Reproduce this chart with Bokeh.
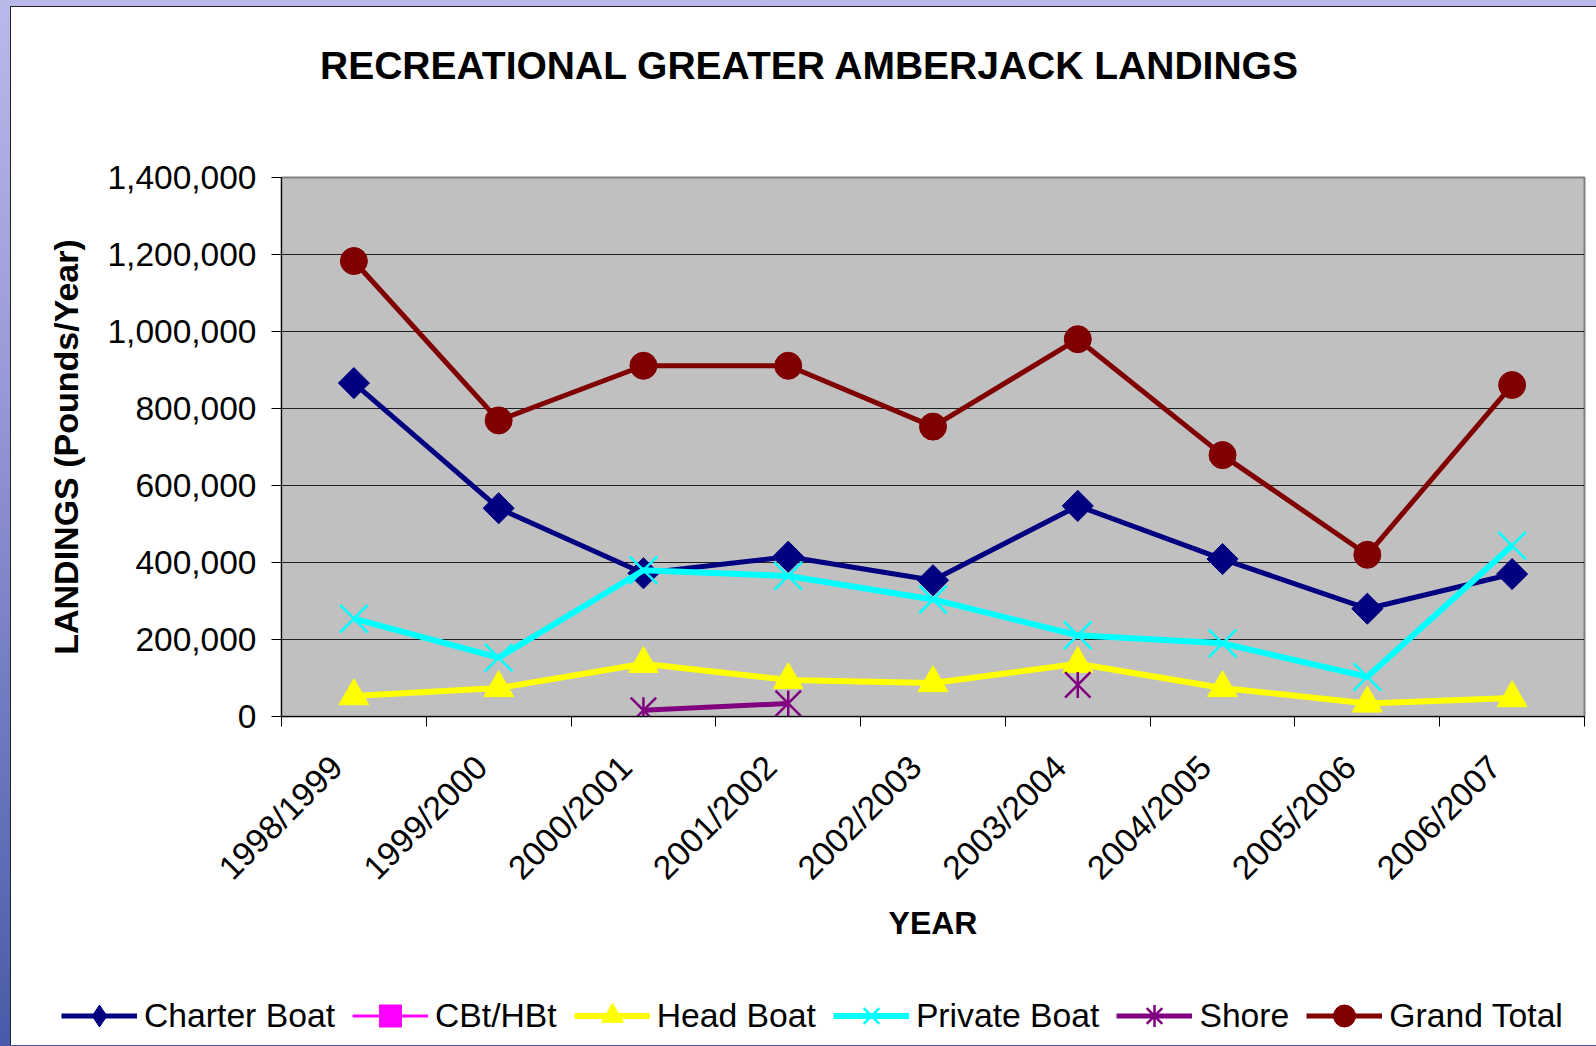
import math
from bokeh.plotting import figure
from bokeh.layouts import column
from bokeh.models import (Range1d, LinearAxis, FixedTicker, NumeralTickFormatter, Div,
                          Legend, LegendItem, Grid, ColumnDataSource)
from bokeh.embed import file_html
from bokeh.resources import INLINE

nan = float("nan")

# ---- data ----
years = ["1998/1999", "1999/2000", "2000/2001", "2001/2002", "2002/2003",
         "2003/2004", "2004/2005", "2005/2006", "2006/2007"]
charter_boat = [866000, 541000, 372000, 415000, 354000, 547000, 409000, 280000, 370000]
cbt_hbt = [nan, nan, nan, nan, nan, nan, nan, nan, nan]
head_boat = [53000, 74000, 137000, 95000, 87000, 137000, 74000, 34000, 48000]
private_boat = [254000, 153000, 380000, 365000, 304000, 211000, 190000, 103000, 444000]
shore = [nan, nan, 16000, 34000, nan, 82000, nan, nan, nan]
grand_total = [1183000, 769000, 911000, 911000, 753000, 980000, 679000, 420000, 861000]
y_ticks = [0, 200000, 400000, 600000, 800000, 1000000, 1200000, 1400000]

series_names = ["Charter Boat", "CBt/HBt", "Head Boat", "Private Boat", "Shore", "Grand Total"]
title_text = "RECREATIONAL GREATER AMBERJACK LANDINGS"
x_label = "YEAR"
y_label = "LANDINGS (Pounds/Year)"

# category positions (band centres) and band edges on a numeric axis
centers = [i + 0.5 for i in range(len(years))]
edges = list(range(len(years) + 1))
label_pos = [c - 0.12 for c in centers]   # rotated labels end just left of the band centre

src = ColumnDataSource(dict(x=centers, charter=charter_boat, cbt=cbt_hbt, head=head_boat,
                            private=private_boat, shore=shore, total=grand_total))

FONT = "Liberation Sans"
C_CHARTER, C_CBT, C_HEAD, C_PRIV, C_SHORE, C_TOTAL = (
    "#000080", "#FF00FF", "#FFFF00", "#00FFFF", "#800080", "#800000")
W = 1585  # width of the white chart area (slide strip on the left)

# ---- title ----
title_div = Div(
    text=('<div style="font-family:\'Liberation Sans\',Arial,sans-serif;font-size:39px;'
          'font-weight:bold;color:black;text-align:center;line-height:44px;'
          'box-sizing:border-box;padding-top:37px;padding-left:11px;width:1585px;margin:0;">'
          + title_text + '</div>'),
    width=W, height=93, margin=0)

# ---- main chart ----
p = figure(width=W, height=880, x_range=Range1d(0, len(years)), y_range=Range1d(0, y_ticks[-1]),
           output_backend="svg", toolbar_location=None, x_axis_type=None, y_axis_type=None,
           min_border_left=270, min_border_right=12, min_border_top=77, min_border_bottom=264,
           margin=0)
p.background_fill_color = "#C0C0C0"
p.border_fill_color = "white"
p.outline_line_color = "#808080"
p.outline_line_width = 2

yaxis = LinearAxis(ticker=FixedTicker(ticks=y_ticks), formatter=NumeralTickFormatter(format="0,0"),
                   axis_label=y_label)
yaxis.axis_line_color = "black"
yaxis.axis_line_width = 1
yaxis.major_tick_out = 10
yaxis.major_tick_in = 0
yaxis.minor_tick_line_color = None
yaxis.major_label_standoff = 15
yaxis.major_label_text_font = FONT
yaxis.major_label_text_font_size = "33.5px"
yaxis.major_label_text_color = "black"
yaxis.axis_label_text_font = FONT
yaxis.axis_label_text_font_style = "bold"
yaxis.axis_label_text_font_size = "34px"
yaxis.axis_label_text_color = "black"
yaxis.axis_label_standoff = 19
p.add_layout(yaxis, "left")

xaxis = LinearAxis(ticker=FixedTicker(ticks=label_pos, minor_ticks=edges),
                   major_label_overrides={c: yr for c, yr in zip(label_pos, years)},
                   axis_label=x_label)
xaxis.axis_line_color = "black"
xaxis.axis_line_width = 1
xaxis.major_tick_out = 0
xaxis.major_tick_in = 0
xaxis.major_tick_line_color = None
xaxis.minor_tick_out = 10
xaxis.minor_tick_in = 0
xaxis.minor_tick_line_color = "black"
xaxis.major_label_orientation = math.pi / 4
xaxis.major_label_standoff = 35
xaxis.major_label_text_font = FONT
xaxis.major_label_text_font_size = "33.5px"
xaxis.major_label_text_color = "black"
xaxis.axis_label_text_font = FONT
xaxis.axis_label_text_font_style = "bold"
xaxis.axis_label_text_font_size = "32px"
xaxis.axis_label_text_color = "black"
xaxis.axis_label_standoff = 2
p.add_layout(xaxis, "below")

p.add_layout(Grid(dimension=1, ticker=yaxis.ticker, grid_line_color="#202020", grid_line_width=1))

p.line("x", "charter", source=src, line_color=C_CHARTER, line_width=5)
p.scatter("x", "charter", source=src, marker="square", angle=math.pi / 4, size=22,
          fill_color=C_CHARTER, line_color=C_CHARTER)
p.line("x", "cbt", source=src, line_color=C_CBT, line_width=3)
p.scatter("x", "cbt", source=src, marker="square", size=14, fill_color=C_CBT, line_color=C_CBT)
p.line("x", "head", source=src, line_color=C_HEAD, line_width=6)
p.scatter("x", "head", source=src, marker="triangle", size=30, fill_color=C_HEAD, line_color=C_HEAD)
p.line("x", "private", source=src, line_color=C_PRIV, line_width=6)
p.scatter("x", "private", source=src, marker="x", size=39, line_color=C_PRIV, line_width=2.5)
p.line("x", "shore", source=src, line_color=C_SHORE, line_width=5)
p.scatter("x", "shore", source=src, marker="x", size=36, line_color=C_SHORE, line_width=2.5)
p.scatter("x", "shore", source=src, marker="dash", angle=math.pi / 2, size=26,
          line_color=C_SHORE, line_width=2.5)
p.line("x", "total", source=src, line_color=C_TOTAL, line_width=5)
p.scatter("x", "total", source=src, marker="circle", size=27, fill_color=C_TOTAL, line_color=C_TOTAL)

# ---- legend strip (own small figure under the chart, frames not aligned) ----
lg = figure(width=W, height=65, x_range=Range1d(0, 1), y_range=Range1d(0, 1),
            output_backend="svg", toolbar_location=None, x_axis_type=None, y_axis_type=None,
            min_border=0, margin=0)
lg.frame_align = False
p.frame_align = False
lg.outline_line_color = None
lg.background_fill_color = "white"
lg.border_fill_color = "white"
key_src = ColumnDataSource(dict(x=[nan], y=[nan]))
key_styles = [
    (C_CHARTER, 5, dict(marker="diamond")),
    (C_CBT, 3, dict(marker="square")),
    (C_HEAD, 6, dict(marker="triangle")),
    (C_PRIV, 6, dict(marker="x", line_width=2.5)),
    (C_SHORE, 5, dict(marker="asterisk", line_width=2.5)),
    (C_TOTAL, 5, dict(marker="circle")),
]
items = []
for name, (col, lw, mk) in zip(series_names, key_styles):
    rl = lg.line("x", "y", source=key_src, line_color=col, line_width=lw)
    rm = lg.scatter("x", "y", source=key_src, fill_color=col, line_color=col, **mk)
    items.append(LegendItem(label=name, renderers=[rl, rm]))

legend = Legend(items=items, orientation="horizontal", location=(50, 2.5), glyph_width=76,
                glyph_height=55, label_standoff=7, spacing=17, padding=0, margin=0,
                border_line_color=None, background_fill_alpha=0, label_text_font=FONT,
                label_text_font_size="33.7px", label_text_color="black")
lg.add_layout(legend, "center")

chart = column(title_div, p, lg, spacing=0, margin=(6, 0, 0, 10),
               styles={"border-left": "1px solid #222", "border-top": "1px solid #222",
                       "background": "white"})
page = column(chart, spacing=0, margin=0, width=1596, height=1046,
              styles={"background": "linear-gradient(180deg, #b9b9ea 0%, #9a9ad8 35%, "
                                    "#6e78c0 70%, #4a5aa8 100%)"})
open("out.html", "w").write(file_html(page, INLINE))
